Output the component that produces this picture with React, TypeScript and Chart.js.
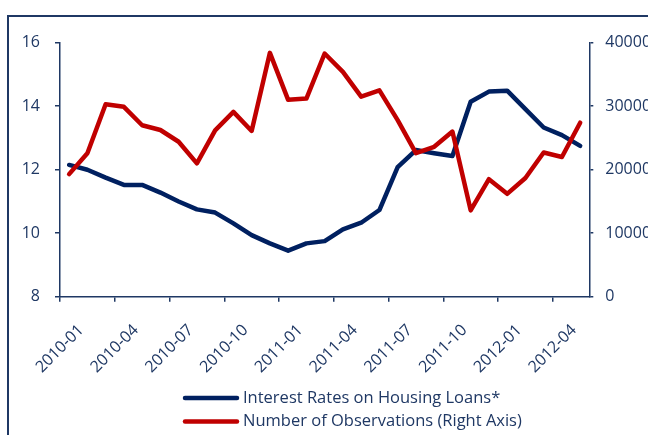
import React, { useEffect, useRef } from "react";
import { Chart, registerables } from "chart.js";

Chart.register(...registerables);

const months: string[] = [
  "2010-01", "2010-02", "2010-03", "2010-04", "2010-05", "2010-06", "2010-07", "2010-08", "2010-09", "2010-10",
  "2010-11", "2010-12", "2011-01", "2011-02", "2011-03", "2011-04", "2011-05", "2011-06", "2011-07", "2011-08",
  "2011-09", "2011-10", "2011-11", "2011-12", "2012-01", "2012-02", "2012-03", "2012-04", "2012-05",
];

const interestRates: number[] = [
  12.15, 12.0, 11.75, 11.52, 11.52, 11.28, 11.0, 10.75, 10.65, 10.31,
  9.94, 9.68, 9.45, 9.68, 9.75, 10.12, 10.33, 10.73, 12.08, 12.62,
  12.52, 12.43, 14.14, 14.46, 14.49, 13.91, 13.33, 13.09, 12.75,
];

const observations: number[] = [
  19300, 22600, 30300, 29900, 27000, 26250, 24400, 21000, 26200, 29100,
  26100, 38400, 31000, 31200, 38300, 35400, 31500, 32500, 27800, 22600,
  23600, 26000, 13600, 18500, 16200, 18700, 22700, 22000, 27400,
];

const seriesLabels: string[] = [
  "Interest Rates on Housing Loans*",
  "Number of Observations (Right Axis)",
];

const NAVY_TEXT = "#1F3864";
const AXIS = "#1F3864";
const BLUE = "#002060";
const RED = "#C00000";
const FONT = "'Open Sans', sans-serif";

export default function App() {
  const ref = useRef<HTMLCanvasElement | null>(null);

  useEffect(() => {
    if (!ref.current) return;

    const framePlugin = {
      id: "frame",
      beforeDraw(chart: any) {
        const c = chart.ctx;
        c.save();
        c.strokeStyle = AXIS;
        c.lineWidth = 2;
        c.beginPath();
        c.moveTo(8, 436);
        c.lineTo(8, 16);
        c.lineTo(650, 16);
        c.stroke();
        c.restore();
      },
    };

    const legendPlugin = {
      id: "customLegend",
      afterDraw(chart: any) {
        const c = chart.ctx;
        const items = [
          { label: seriesLabels[0], color: BLUE, y: 398 },
          { label: seriesLabels[1], color: RED, y: 421.5 },
        ];
        c.save();
        items.forEach((it) => {
          c.strokeStyle = it.color;
          c.lineWidth = 4.5;
          c.lineCap = "round";
          c.beginPath();
          c.moveTo(185, it.y);
          c.lineTo(237, it.y);
          c.stroke();
          c.fillStyle = NAVY_TEXT;
          c.font = `16.5px ${FONT}`;
          c.textBaseline = "middle";
          c.textAlign = "left";
          c.fillText(it.label, 243, it.y);
        });
        c.restore();
      },
    };

    const chart = new Chart(ref.current, {
      type: "line",
      data: {
        labels: months,
        datasets: [
          {
            label: seriesLabels[0],
            data: interestRates,
            borderColor: BLUE,
            backgroundColor: BLUE,
            borderWidth: 4.5,
            pointRadius: 0,
            tension: 0,
            yAxisID: "y",
            order: 1,
            borderJoinStyle: "round",
            borderCapStyle: "round",
          },
          {
            label: seriesLabels[1],
            data: observations,
            borderColor: RED,
            backgroundColor: RED,
            borderWidth: 4.5,
            pointRadius: 0,
            tension: 0,
            yAxisID: "y1",
            order: 0,
            borderJoinStyle: "round",
            borderCapStyle: "round",
          },
        ],
      },
      options: {
        responsive: false,
        animation: false,
        devicePixelRatio: 1,
        layout: { padding: { top: 42.7, left: 0, right: 0, bottom: 0 } },
        plugins: {
          legend: { display: false },
          tooltip: { enabled: false },
        },
        scales: {
          x: {
            type: "category",
            offset: true,
            afterFit: (s: any) => {
              s.height = 138.3;
            },
            grid: {
              offset: true,
              drawOnChartArea: false,
              drawTicks: true,
              tickLength: 5,
              lineWidth: 1.5,
              color: (ctx: any) =>
                ctx.index !== undefined && ctx.index % 3 === 0 ? AXIS : "rgba(0,0,0,0)",
            },
            border: { color: AXIS, width: 1.5 },
            ticks: {
              autoSkip: false,
              minRotation: 45,
              maxRotation: 45,
              padding: 19,
              labelOffset: 12,
              color: NAVY_TEXT,
              font: { family: FONT, size: 16 },
              callback: (_v: any, i: number) => (i % 3 === 0 ? months[i] : ""),
            },
          },
          y: {
            position: "left",
            min: 8,
            max: 16,
            afterFit: (s: any) => {
              s.width = 60;
            },
            grid: {
              drawOnChartArea: false,
              tickLength: 5,
              lineWidth: 1.5,
              color: AXIS,
            },
            border: { color: AXIS, width: 1.5 },
            ticks: {
              stepSize: 2,
              padding: 15,
              color: NAVY_TEXT,
              font: { family: FONT, size: 16 },
            },
          },
          y1: {
            position: "right",
            min: 0,
            max: 40000,
            afterFit: (s: any) => {
              s.width = 58.7;
            },
            grid: {
              drawOnChartArea: false,
              tickLength: 4,
              lineWidth: 1.5,
              color: AXIS,
            },
            border: { color: AXIS, width: 1.5 },
            ticks: {
              stepSize: 10000,
              padding: 12,
              color: NAVY_TEXT,
              font: { family: FONT, size: 16 },
              callback: (v: any) => String(v),
            },
          },
        },
      },
      plugins: [framePlugin, legendPlugin],
    });

    return () => {
      chart.destroy();
    };
  }, []);

  return (
    <canvas
      ref={ref}
      width={648}
      height={435}
      style={{ position: "fixed", left: 0, top: 0, width: 648, height: 435 }}
    />
  );
}
